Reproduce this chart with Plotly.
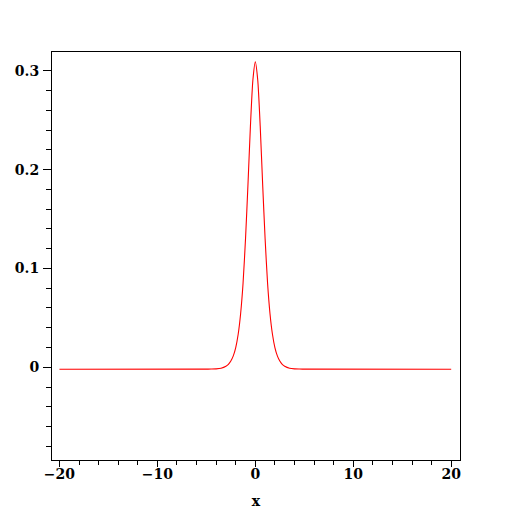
import plotly.graph_objects as go

# Values
x_vals = [-20, -5, -4.5, -4, -3.5, -3, -2.75, -2.5, -2.25, -2, -1.75, -1.5, -1.25, -1,
          -0.75, -0.5, -0.25, 0, 0.25, 0.5, 0.75, 1, 1.25, 1.5, 1.75, 2, 2.25, 2.5,
          2.75, 3, 3.5, 4, 4.5, 5, 20]
y_vals = [-0.0020, -0.0019, -0.0018, -0.0016, -0.0009, 0.0011, 0.0030, 0.0063, 0.0115,
          0.0200, 0.0334, 0.0542, 0.0852, 0.1300, 0.1850, 0.2440, 0.2904, 0.3090,
          0.2904, 0.2440, 0.1850, 0.1300, 0.0852, 0.0542, 0.0334, 0.0200, 0.0115,
          0.0063, 0.0030, 0.0011, -0.0009, -0.0016, -0.0018, -0.0019, -0.0020]

x_ticks = [-20, -10, 0, 10, 20]
x_tick_labels = ["\u221220", "\u221210", "0", "10", "20"]
y_ticks = [0, 0.1, 0.2, 0.3]
y_tick_labels = ["0", "0.1", "0.2", "0.3"]

font = dict(family="DejaVu Serif", size=14, color="black", weight="bold")

fig = go.Figure(go.Scatter(x=x_vals, y=y_vals, mode="lines",
                           line=dict(color="#ff0000", width=1.1, shape="spline", smoothing=0.6),
                           hoverinfo="skip"))

fig.update_layout(
    width=504, height=504,
    margin=dict(l=44, r=52, t=44, b=52, pad=0, autoexpand=False),
    paper_bgcolor="white", plot_bgcolor="white",
    showlegend=False,
    font=font,
)
fig.update_xaxes(
    automargin=False,
    range=[-20.76, 20.9], showgrid=False, zeroline=False,
    showline=True, linecolor="black", linewidth=1, mirror=True,
    tickmode="array", tickvals=x_ticks, ticktext=x_tick_labels,
    ticks="outside", ticklen=6, tickcolor="black", tickwidth=1,
    minor=dict(dtick=2, tick0=0, ticks="outside", ticklen=4, tickcolor="black"),
    tickfont=font, ticklabelstandoff=-5,
    title=dict(text="x", font=font, standoff=15),
)
fig.update_yaxes(
    automargin=False,
    range=[-0.0938, 0.319], showgrid=False, zeroline=False,
    showline=True, linecolor="black", linewidth=1, mirror=True,
    tickmode="array", tickvals=y_ticks, ticktext=y_tick_labels,
    ticks="outside", ticklen=8, tickcolor="black", tickwidth=1,
    minor=dict(dtick=0.02, tick0=0, ticks="outside", ticklen=5, tickcolor="black"),
    tickfont=font, ticklabelstandoff=1,
)

fig.write_html("out.html")
